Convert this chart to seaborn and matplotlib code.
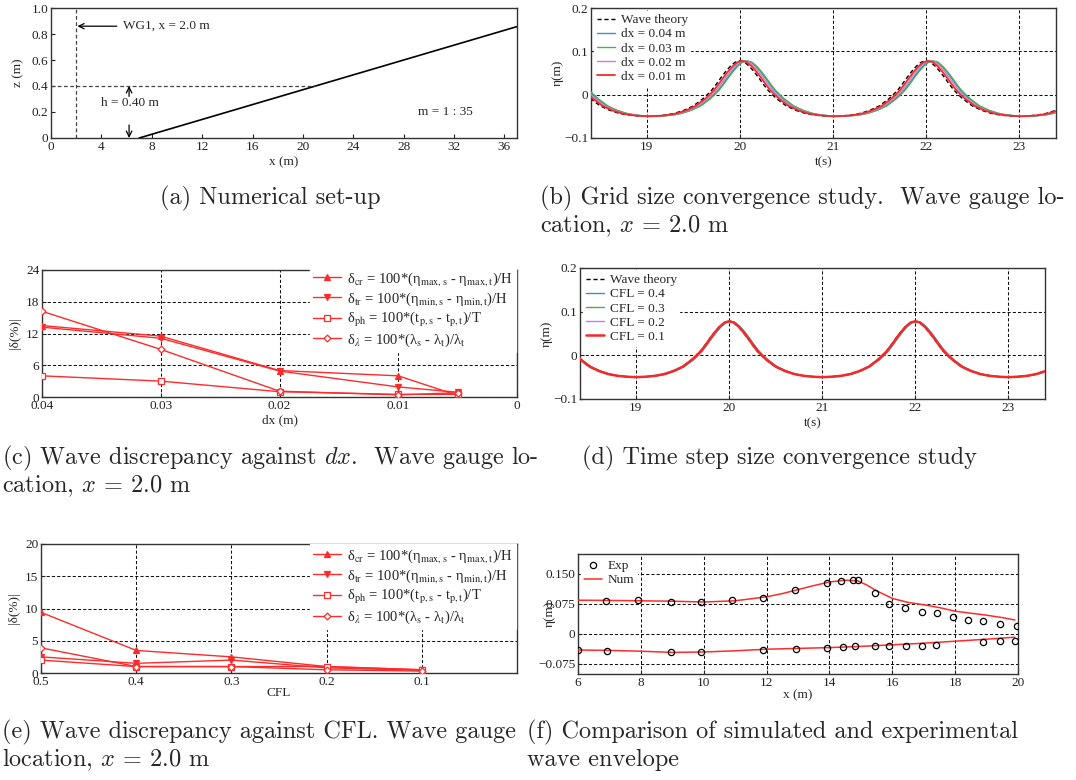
import numpy as np
import pandas as pd
import matplotlib
matplotlib.use('Agg')
import matplotlib.pyplot as plt
import seaborn as sns

# ---------------- data ----------------
# (a) numerical set-up
beach_x = [7.0, 37.0]
beach_z = [0.0, 0.857]
gauge_x = 2.0
depth = 0.40
slope_m = 35

# (b), (d) free surface elevation at WG1
t_wave = [18.2, 18.25, 18.3, 18.35, 18.4, 18.5, 18.6, 18.7, 18.8, 18.9,
          19.0, 19.1, 19.2, 19.3, 19.4, 19.5, 19.6, 19.65, 19.7, 19.75,
          19.8, 19.85, 19.9, 19.95, 20.0, 20.05, 20.1, 20.15, 20.2, 20.25,
          20.3, 20.35, 20.4, 20.5, 20.6, 20.7, 20.8, 20.9,
          21.0, 21.1, 21.2, 21.3, 21.4, 21.5, 21.6, 21.65, 21.7, 21.75,
          21.8, 21.85, 21.9, 21.95, 22.0, 22.05, 22.1, 22.15, 22.2, 22.25,
          22.3, 22.35, 22.4, 22.5, 22.6, 22.7, 22.8, 22.9,
          23.0, 23.1, 23.2, 23.3, 23.4, 23.5]
eta_theory = [0.040, 0.025, 0.011, 0.000, -0.010, -0.026, -0.036, -0.043, -0.047, -0.049,
              -0.050, -0.049, -0.047, -0.043, -0.036, -0.026, -0.010, 0.000, 0.011, 0.025,
              0.040, 0.054, 0.066, 0.075, 0.078, 0.075, 0.066, 0.054, 0.040, 0.025,
              0.011, 0.000, -0.010, -0.026, -0.036, -0.043, -0.047, -0.049,
              -0.050, -0.049, -0.047, -0.043, -0.036, -0.026, -0.010, 0.000, 0.011, 0.025,
              0.040, 0.054, 0.066, 0.075, 0.078, 0.075, 0.066, 0.054, 0.040, 0.025,
              0.011, 0.000, -0.010, -0.026, -0.036, -0.043, -0.047, -0.049,
              -0.050, -0.049, -0.047, -0.043, -0.036, -0.026]
dx_labels = ['dx = 0.04 m', 'dx = 0.03 m', 'dx = 0.02 m', 'dx = 0.01 m']
dx_lags = [0.07, 0.08, 0.05, 0.025]
cfl_labels = ['CFL = 0.4', 'CFL = 0.3', 'CFL = 0.2', 'CFL = 0.1']
cfl_lags = [0.02, 0.015, 0.01, 0.005]
run_colors = ['#3e8ed0', '#4aae4a', '#c77fd6', '#f42a2a']

# (c) discrepancy against dx
dx_vals = [0.04, 0.03, 0.02, 0.01, 0.005]
dx_cr = [13.5, 11.5, 5.0, 4.0, 0.3]
dx_tr = [13.2, 11.1, 4.9, 1.9, 0.9]
dx_ph = [4.0, 3.0, 1.0, 0.5, 0.5]
dx_lam = [16.2, 9.0, 1.1, 0.4, 0.8]

# (e) discrepancy against CFL
cfl_vals = [0.5, 0.4, 0.3, 0.2, 0.1]
cfl_cr = [9.4, 3.5, 2.5, 1.0, 0.5]
cfl_tr = [2.5, 1.5, 2.0, 0.8, 0.4]
cfl_ph = [2.0, 1.0, 1.0, 1.0, 0.5]
cfl_lam = [3.9, 1.0, 1.0, 0.5, 0.3]

# (f) wave envelope
exp_x_top = [6.88, 7.9, 8.95, 9.92, 10.91, 11.9, 12.92, 13.91, 14.38, 14.76, 14.91,
             15.44, 15.9, 16.42, 16.93, 17.41, 17.92, 18.41, 18.9, 19.43, 19.96]
exp_top = [0.0835, 0.086, 0.079, 0.079, 0.086, 0.089, 0.110, 0.127, 0.133, 0.135, 0.136,
           0.102, 0.074, 0.065, 0.056, 0.053, 0.0435, 0.035, 0.032, 0.0256, 0.0196]
exp_x_bot = [6.0, 6.93, 8.95, 9.91, 11.9, 12.95, 13.91, 14.43, 14.82, 15.44, 15.9,
             16.45, 16.96, 17.4, 18.9, 19.43, 19.91]
exp_bot = [-0.040, -0.042, -0.044, -0.044, -0.039, -0.0375, -0.036, -0.0315, -0.031, -0.031, -0.031,
           -0.030, -0.030, -0.0265, -0.019, -0.018, -0.018]
num_x_top = [6, 7, 8, 9, 10, 11, 12, 12.5, 13, 13.5, 14, 14.5, 14.9, 15.2, 15.5,
             16, 16.5, 17, 17.5, 18, 18.5, 19, 19.5, 19.9]
num_top = [0.0845, 0.084, 0.083, 0.082, 0.080, 0.083, 0.093, 0.101, 0.111, 0.121, 0.130, 0.1345, 0.133, 0.122, 0.108,
           0.089, 0.079, 0.073, 0.066, 0.057, 0.052, 0.047, 0.041, 0.035]
num_x_bot = [6, 7, 8, 9, 10, 11, 12, 13, 14, 15, 16, 17, 18, 19, 19.9]
num_bot = [-0.040, -0.041, -0.043, -0.046, -0.045, -0.042, -0.038, -0.036, -0.034, -0.031,
           -0.027, -0.023, -0.018, -0.013, -0.008]

# ---------------- style ----------------
sns.set_style('ticks')
plt.rcParams['font.family'] = ['Liberation Serif', 'DejaVu Serif']
plt.rcParams['mathtext.fontset'] = 'stix'
plt.rcParams['axes.unicode_minus'] = True

W, H = 1076, 780
fig = plt.figure(figsize=(W / 100, H / 100), dpi=100)
FS = 9.5
RED = '#ff2b2b'
DASH = (0, (3, 2))


def px_axes(l, t, r, b):
    return fig.add_axes([l / W, 1 - b / H, (r - l) / W, (b - t) / H])


def style_ax(ax, grid=True):
    for s in ax.spines.values():
        s.set_linewidth(1.0)
        s.set_color('#333333')
    ax.tick_params(direction='in', length=3, width=0.8, labelsize=FS, pad=2,
                   colors='#222222')
    if grid:
        ax.grid(True, color='#111111', linestyle=DASH, linewidth=0.75)


def clean_legend(ax, fs=FS, **kw):
    leg = ax.legend(fontsize=fs, frameon=True, fancybox=False, framealpha=1,
                    edgecolor='white', borderpad=0.2, labelspacing=0.15,
                    handletextpad=0.4, **kw)
    return leg


# ---------------- (a) ----------------
ax = px_axes(51, 8, 517, 138)
sns.lineplot(x=beach_x, y=beach_z, color='k', linewidth=1.2, ax=ax)
ax.axvline(gauge_x, color='#444444', linestyle=DASH, linewidth=0.9)
ax.hlines(depth, 0, beach_x[0] + depth * slope_m, color='#444444', linestyle=DASH, linewidth=0.9)
ax.annotate('WG1, x = 2.0 m', xy=(gauge_x + 0.1, 0.86), xytext=(5.7, 0.86), va='center',
            fontsize=FS, arrowprops=dict(arrowstyle='->', color='k', lw=0.9, shrinkA=2, shrinkB=0))
ax.text(6.3, 0.27, 'h = 0.40 m', ha='center', va='center', fontsize=FS)
ax.annotate('', xy=(6.2, depth), xytext=(6.2, 0.32),
            arrowprops=dict(arrowstyle='->', color='k', lw=0.9, shrinkA=0, shrinkB=0))
ax.annotate('', xy=(6.2, 0.0), xytext=(6.2, 0.1),
            arrowprops=dict(arrowstyle='->', color='k', lw=0.9, shrinkA=0, shrinkB=0))
ax.text(31.3, 0.2, 'm = 1 : %d' % slope_m, ha='center', va='center', fontsize=FS)
ax.set_xlim(0, 37)
ax.set_ylim(0, 1.0)
ax.set_xticks(range(0, 37, 4))
ax.set_yticks([0, 0.2, 0.4, 0.6, 0.8, 1.0])
ax.set_yticklabels(['0', '0.2', '0.4', '0.6', '0.8', '1.0'])
ax.set_xlabel('x (m)', fontsize=FS)
ax.set_ylabel('z (m)', fontsize=FS)
style_ax(ax, grid=False)
ax.xaxis.set_label_coords(0.5, -0.14)
ax.yaxis.set_label_coords(-0.058, 0.5)


# ---------------- (b) and (d) ----------------
def wave_panel(rect, labels, lags, red_lw):
    ax = px_axes(*rect)
    sns.lineplot(x=t_wave, y=eta_theory, color='k', linestyle=DASH, linewidth=1.0,
                 label='Wave theory', ax=ax, zorder=2)
    for lab, lag, col in zip(labels, lags, run_colors):
        lw = red_lw if col == run_colors[-1] else 1.0
        sns.lineplot(x=np.array(t_wave) + lag, y=eta_theory, color=col, linewidth=lw,
                     label=lab, ax=ax, zorder=3)
    ax.set_xlim(18.4, 23.4)
    ax.set_ylim(-0.1, 0.2)
    ax.set_xticks([19, 20, 21, 22, 23])
    ax.set_yticks([-0.1, 0, 0.1, 0.2])
    ax.set_yticklabels(['\u22120.1', '0', '0.1', '0.2'])
    ax.set_xlabel('t(s)', fontsize=FS)
    ax.set_ylabel('\u03b7(m)', fontsize=FS)
    style_ax(ax)
    clean_legend(ax, loc='upper left', handlelength=1.4, borderaxespad=0.25)
    ax.xaxis.set_label_coords(0.5, -0.14)
    ax.yaxis.set_label_coords(-0.058, 0.5)
    return ax


wave_panel((591, 8, 1056, 138), dx_labels, dx_lags, 1.3)
wave_panel((580, 268, 1045, 399), cfl_labels, cfl_lags, 1.8)


# ---------------- (c) and (e) ----------------
def disc_panel(rect, xs, cr, tr, ph, lam, xlim, xticks, xtl, yticks, xlabel, anchor_y):
    ax = px_axes(*rect)
    labels = ['\u03b4$_{\\rm cr}$ = 100*(\u03b7$_{\\rm max,s}$ - \u03b7$_{\\rm max,t}$)/H',
              '\u03b4$_{\\rm tr}$ = 100*(\u03b7$_{\\rm min,s}$ - \u03b7$_{\\rm min,t}$)/H',
              '\u03b4$_{\\rm ph}$ = 100*(t$_{\\rm p,s}$ - t$_{\\rm p,t}$)/T',
              '\u03b4$_{\\lambda}$ = 100*(\u03bb$_{\\rm s}$ - \u03bb$_{\\rm t}$)/\u03bb$_{\\rm t}$']
    series = [cr, tr, ph, lam]
    markers = ['^', 'v', 's', 'D']
    sizes = [4, 4, 5, 3.5]
    fills = [RED, RED, 'white', 'white']
    for ys, lab, mk, ms, fc in zip(series, labels, markers, sizes, fills):
        sns.lineplot(x=xs, y=ys, color=RED, linewidth=1.0, marker=mk, markersize=ms,
                     markerfacecolor=fc, markeredgecolor=RED, markeredgewidth=0.9,
                     label=lab, ax=ax, zorder=3)
    ax.set_xlim(*xlim)
    ax.set_ylim(yticks[0], yticks[-1])
    ax.set_xticks(xticks)
    ax.set_xticklabels(xtl)
    ax.set_yticks(yticks)
    ax.set_xlabel(xlabel, fontsize=FS)
    ax.set_ylabel('|\u03b4(%)|', fontsize=FS)
    style_ax(ax)
    clean_legend(ax, fs=10.5, loc='upper right', bbox_to_anchor=(1.0, anchor_y),
                 handlelength=1.9, borderaxespad=0.1)
    ax.yaxis.set_label_coords(-0.045, 0.5)
    return ax


ax_c = disc_panel((42, 270, 517, 397), dx_vals, dx_cr, dx_tr, dx_ph, dx_lam,
                  (0.04, 0.0), [0.04, 0.03, 0.02, 0.01, 0.0],
                  ['0.04', '0.03', '0.02', '0.01', '0'], [0, 6, 12, 18, 24], 'dx (m)', 1.035)
ax_c.xaxis.set_label_coords(0.5, -0.134)
ax_e = disc_panel((41, 544, 517, 673), cfl_vals, cfl_cr, cfl_tr, cfl_ph, cfl_lam,
                  (0.5, 0.0), [0.5, 0.4, 0.3, 0.2, 0.1],
                  ['0.5', '0.4', '0.3', '0.2', '0.1'], [0, 5, 10, 15, 20], 'CFL', 1.01)
ax_e.xaxis.set_label_coords(0.5, -0.11)

# ---------------- (f) ----------------
ax = px_axes(578, 554, 1018, 674)
sns.lineplot(x=exp_x_top, y=exp_top, linestyle='none', marker='o', markersize=4.5,
             markerfacecolor='none', markeredgecolor='k', markeredgewidth=0.9,
             label='Exp', ax=ax, zorder=4)
sns.lineplot(x=exp_x_bot, y=exp_bot, linestyle='none', marker='o', markersize=4.5,
             markerfacecolor='none', markeredgecolor='k', markeredgewidth=0.9,
             ax=ax, zorder=4)
sns.lineplot(x=num_x_top, y=num_top, color=RED, linewidth=1.1, label='Num', ax=ax, zorder=3)
sns.lineplot(x=num_x_bot, y=num_bot, color=RED, linewidth=1.1, ax=ax, zorder=3)
ax.set_xlim(6, 20)
ax.set_ylim(-0.1, 0.2)
ax.set_xticks(range(6, 21, 2))
ax.set_yticks([-0.075, 0, 0.075, 0.15])
ax.set_yticklabels(['\u22120.075', '0', '0.075', '0.150'])
ax.set_xlabel('x (m)', fontsize=FS)
ax.set_ylabel('\u03b7(m)', fontsize=FS)
style_ax(ax)
clean_legend(ax, loc='upper left', handlelength=1.4, borderaxespad=0.25)
ax.xaxis.set_label_coords(0.5, -0.125)
ax.yaxis.set_label_coords(-0.05, 0.5)

# ---------------- captions ----------------
CAP = dict(fontsize=17.5, family='cmr10', math_fontfamily='cm', va='center')
fig.text(270 / W, 1 - 198 / H, '(a) Numerical set-up', ha='center', **CAP)
fig.text(540 / W, 1 - 198 / H, '(b) Grid size convergence study.  Wave gauge lo-', ha='left', **CAP)
fig.text(540 / W, 1 - 226 / H, 'cation, $x$ = 2.0 m', ha='left', **CAP)
fig.text(2 / W, 1 - 458 / H, '(c) Wave discrepancy against $dx$.  Wave gauge lo-', ha='left', **CAP)
fig.text(2 / W, 1 - 486 / H, 'cation, $x$ = 2.0 m', ha='left', **CAP)
fig.text(582 / W, 1 - 458 / H, '(d) Time step size convergence study', ha='left', **CAP)
fig.text(2 / W, 1 - 732 / H, '(e) Wave discrepancy against CFL. Wave gauge', ha='left', **CAP)
fig.text(2 / W, 1 - 760 / H, 'location, $x$ = 2.0 m', ha='left', **CAP)
fig.text(527 / W, 1 - 732 / H, '(f) Comparison of simulated and experimental', ha='left', **CAP)
fig.text(527 / W, 1 - 760 / H, 'wave envelope', ha='left', **CAP)

fig.savefig('out.png', dpi=100)
